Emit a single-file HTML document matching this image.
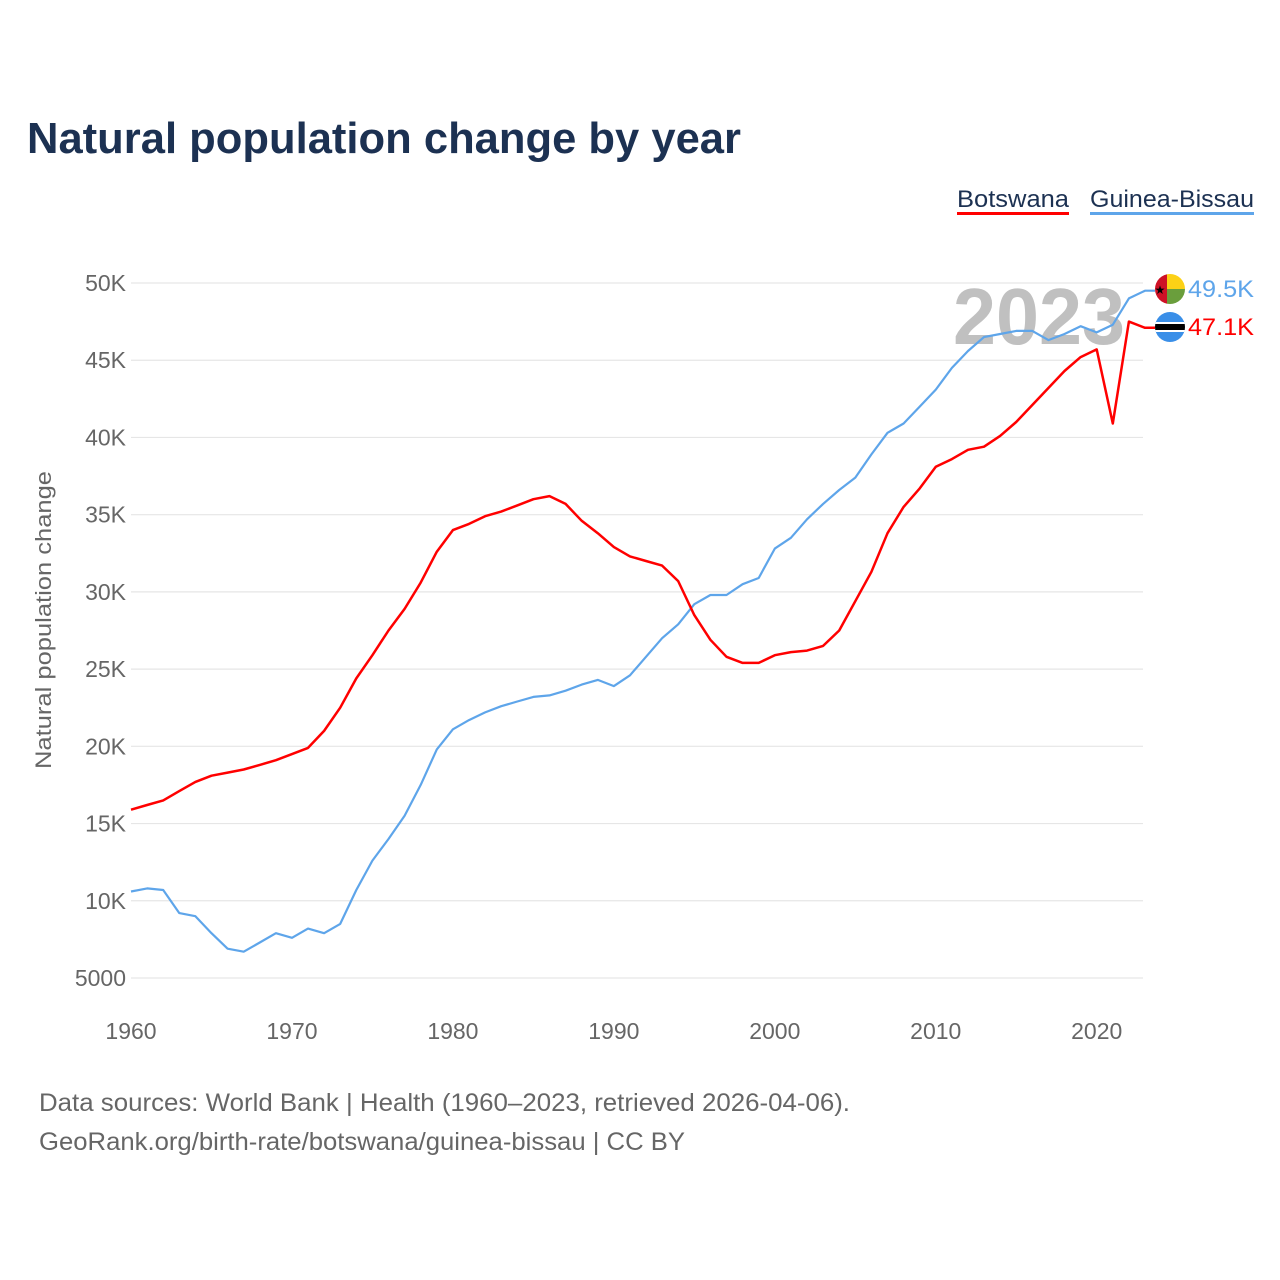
<!DOCTYPE html>
<html><head><meta charset="utf-8"><style>
body{margin:0;background:#fff;}
svg{display:block;font-family:"Liberation Sans",sans-serif;}
</style></head><body>
<svg id="chart" width="1280" height="1280" viewBox="0 0 1280 1280" xmlns="http://www.w3.org/2000/svg">
<rect width="1280" height="1280" fill="#fff"/>
<text x="27" y="153" font-size="44" font-weight="bold" fill="#1c3152" textLength="714" lengthAdjust="spacingAndGlyphs">Natural population change by year</text>
<g>
<text x="957" y="207" font-size="24" fill="#1c3152" textLength="112" lengthAdjust="spacingAndGlyphs">Botswana</text>
<rect x="957" y="212" width="112" height="3" fill="#ff0000"/>
</g>
<g>
<text x="1090" y="207" font-size="24" fill="#1c3152" textLength="164" lengthAdjust="spacingAndGlyphs">Guinea-Bissau</text>
<rect x="1090" y="212" width="164" height="3" fill="#5ea5ea"/>
</g>
<text transform="translate(51,620) rotate(-90)" text-anchor="middle" font-size="22" fill="#666" textLength="298" lengthAdjust="spacingAndGlyphs">Natural population change</text>
<g id="grid"></g>
<g id="xticks"></g>
<text x="1125" y="344" text-anchor="end" font-size="80" font-weight="bold" fill="#bdbdbd" fill-opacity="0.95" textLength="172" lengthAdjust="spacingAndGlyphs">2023</text>
<g id="series"></g>
<g>
<clipPath id="c1"><circle cx="1170" cy="289" r="15"/></clipPath>
<g clip-path="url(#c1)">
<rect x="1155" y="274" width="12" height="30" fill="#ce1126"/>
<rect x="1167" y="274" width="18" height="15" fill="#fcd116"/>
<rect x="1167" y="289" width="18" height="15" fill="#6a9e3c"/>
</g>
<text x="1160" y="294" font-size="12" text-anchor="middle" fill="#000">★</text>
</g>
<g>
<clipPath id="c2"><circle cx="1170" cy="327" r="15"/></clipPath>
<g clip-path="url(#c2)">
<rect x="1155" y="312" width="30" height="30" fill="#3a8fe8"/>
<rect x="1155" y="322" width="30" height="10" fill="#fff"/>
<rect x="1155" y="324" width="30" height="6" fill="#000"/>
</g>
</g>
<text x="1188" y="297" font-size="24" fill="#5ea5ea" textLength="66" lengthAdjust="spacingAndGlyphs">49.5K</text>
<text x="1188" y="335" font-size="24" fill="#ff0000" textLength="66" lengthAdjust="spacingAndGlyphs">47.1K</text>
<text x="39" y="1111" font-size="25" fill="#666" textLength="811" lengthAdjust="spacingAndGlyphs">Data sources: World Bank | Health (1960–2023, retrieved 2026-04-06).</text>
<text x="39" y="1150" font-size="25" fill="#666" textLength="646" lengthAdjust="spacingAndGlyphs">GeoRank.org/birth-rate/botswana/guinea-bissau | CC BY</text>
</svg>
<script>
const years = [];
for (let y = 1960; y <= 2023; y++) years.push(y);
const botswana = [15.9,16.2,16.5,17.1,17.7,18.1,18.3,18.5,18.8,19.1,19.5,19.9,21.0,22.5,24.4,25.9,27.5,28.9,30.6,32.6,34.0,34.4,34.9,35.2,35.6,36.0,36.2,35.7,34.6,33.8,32.9,32.3,32.0,31.7,30.7,28.5,26.9,25.8,25.4,25.4,25.9,26.1,26.2,26.5,27.5,29.4,31.3,33.8,35.5,36.7,38.1,38.6,39.2,39.4,40.1,41.0,42.1,43.2,44.3,45.2,45.7,40.9,47.5,47.1];
const guineaBissau = [10.6,10.8,10.7,9.2,9.0,7.9,6.9,6.7,7.3,7.9,7.6,8.2,7.9,8.5,10.7,12.6,14.0,15.5,17.5,19.8,21.1,21.7,22.2,22.6,22.9,23.2,23.3,23.6,24.0,24.3,23.9,24.6,25.8,27.0,27.9,29.2,29.8,29.8,30.5,30.9,32.8,33.5,34.7,35.7,36.6,37.4,38.9,40.3,40.9,42.0,43.1,44.5,45.6,46.5,46.7,46.9,46.9,46.3,46.7,47.2,46.8,47.3,49.0,49.5];
const yTicks = [5,10,15,20,25,30,35,40,45,50];
const yTickLabels = ["5000","10K","15K","20K","25K","30K","35K","40K","45K","50K"];
const xTicks = [1960,1970,1980,1990,2000,2010,2020];

const NS = "http://www.w3.org/2000/svg";
const xs = yr => 131 + (yr - 1960) * (1145 - 131) / 63;
const ys = v => 978 - (v - 5) * (978 - 283) / 45;

const grid = document.getElementById('grid');
yTicks.forEach((t, i) => {
  const l = document.createElementNS(NS, 'line');
  
  
  l.setAttribute('x1', 131); l.setAttribute('x2', 1143);
  l.setAttribute('y1', ys(t)); l.setAttribute('y2', ys(t));
  l.setAttribute('stroke', '#e6e6e6'); l.setAttribute('stroke-width', '1.2');
  grid.appendChild(l);
  const tx = document.createElementNS(NS, 'text');
  
  
  tx.setAttribute('x', 126); tx.setAttribute('y', ys(t) + 8);
  tx.setAttribute('text-anchor', 'end'); tx.setAttribute('font-size', '23'); tx.setAttribute('fill', '#666');
  tx.textContent = yTickLabels[i];
  grid.appendChild(tx);
});
const xg = document.getElementById('xticks');
xTicks.forEach(t => {
  const tx = document.createElementNS(NS, 'text');
  
  
  tx.setAttribute('x', xs(t)); tx.setAttribute('y', 1039);
  tx.setAttribute('text-anchor', 'middle'); tx.setAttribute('font-size', '23'); tx.setAttribute('fill', '#666');
  tx.textContent = t;
  xg.appendChild(tx);
});
const sg = document.getElementById('series');
function line(vals, color, w, name) {
  const p = document.createElementNS(NS, 'path');
  
  
  const last = vals[vals.length - 1];
  p.setAttribute('d', vals.map((v, i) => (i ? 'L' : 'M') + xs(years[i]).toFixed(1) + ',' + ys(v).toFixed(1)).join('') + 'L1155,' + ys(last).toFixed(1));
  p.setAttribute('fill', 'none'); p.setAttribute('stroke', color);
  p.setAttribute('stroke-width', w); p.setAttribute('stroke-linejoin', 'round');
  sg.appendChild(p);
}
line(guineaBissau, '#5ea5ea', 2.2, 'line-guinea-bissau');
line(botswana, '#ff0000', 2.5, 'line-botswana');
</script>
</body></html>
